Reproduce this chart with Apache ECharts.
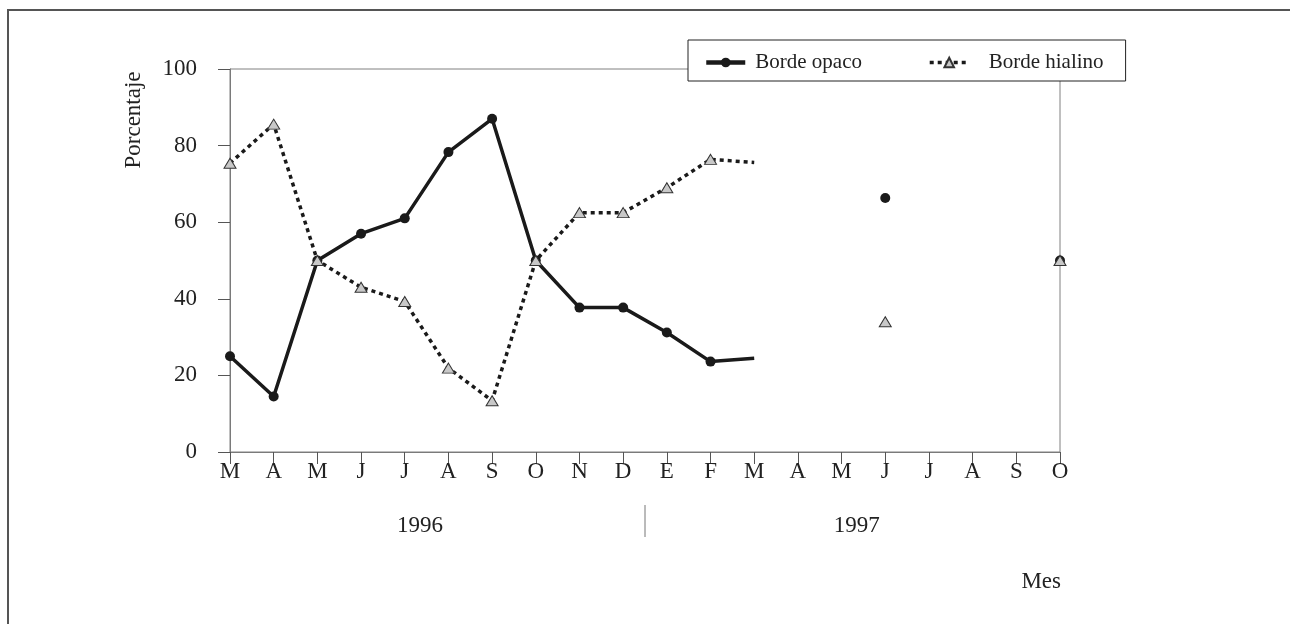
<!DOCTYPE html>
<html>
<head>
<meta charset="utf-8">
<script src="https://cdn.jsdelivr.net/npm/echarts@6/dist/echarts.min.js"></script>
<style>
  html, body { margin: 0; padding: 0; background: #fff; }
  #chart { width: 1290px; height: 624px; }
</style>
</head>
<body>
<div id="chart"></div>
<script>
// months from March 1996 to October 1997
const months = ['M', 'A', 'M', 'J', 'J', 'A', 'S', 'O', 'N', 'D', 'E', 'F', 'M', 'A', 'M', 'J', 'J', 'A', 'S', 'O']
const yearLabels = ['1996', '1997']
const yTicks = [0, 20, 40, 60, 80, 100]

// null = no sample that month
const opaco = [25, 14.5, 50, 57, 61, 78.3, 87, 50, 37.7, 37.7, 31.2, 23.6, 24.5, null, null, 66.3, null, null, null, 50]
const hialino = [75.4, 85.6, 50, 43, 39.3, 21.9, 13.4, 50, 62.5, 62.5, 69, 76.4, 75.6, null, null, 34, null, null, null, 50]
// last month drawn as line end only, no marker
const noMarkerIdx = 12

const FONT = '"Liberation Serif", "DejaVu Serif", serif'

const toItems = arr => arr.map((v, i) => i === noMarkerIdx ? { value: v, symbol: 'none' } : v)

const chart = echarts.init(document.getElementById('chart'))

chart.setOption({
  animation: false,
  backgroundColor: '#fff',
  grid: { left: 230, right: 230, top: 69, bottom: 172, show: true, borderColor: '#808080', borderWidth: 1 },
  legend: {
    left: 688, top: 40,
    backgroundColor: '#fff', borderColor: '#222', borderWidth: 1,
    padding: [12, 22, 8, 16],
    itemGap: 66, itemWidth: 39, itemHeight: 12,
    textStyle: { fontFamily: FONT, fontSize: 21, color: '#222', padding: [0, 0, 0, 5] },
    data: [
      { name: 'Borde opaco', lineStyle: { width: 4.5 } },
      { name: 'Borde hialino', lineStyle: { width: 3.5 }, textStyle: { padding: [0, 0, 0, 15] } }
    ]
  },
  xAxis: {
    type: 'category',
    boundaryGap: false,
    data: months,
    axisLine: { lineStyle: { color: '#7a7a7a', width: 1 } },
    axisTick: { show: true, inside: false, length: 12, alignWithLabel: true, lineStyle: { color: '#555' } },
    axisLabel: { margin: 8, fontFamily: FONT, fontSize: 23, color: '#222', interval: 0 },
    splitLine: { show: false }
  },
  yAxis: {
    type: 'value',
    min: yTicks[0], max: yTicks[yTicks.length - 1], interval: 20,
    axisLine: { show: true, lineStyle: { color: '#7a7a7a', width: 1 } },
    axisTick: { show: true, inside: false, length: 12, lineStyle: { color: '#555' } },
    axisLabel: { margin: 33, fontFamily: FONT, fontSize: 23, color: '#222' },
    splitLine: { show: false }
  },
  series: [
    {
      name: 'Borde opaco',
      type: 'line',
      data: toItems(opaco),
      showAllSymbol: true,
      symbol: 'circle',
      symbolSize: 10,
      itemStyle: { color: '#1a1a1a' },
      lineStyle: { color: '#1a1a1a', width: 3.5 },
      z: 2
    },
    {
      name: 'Borde hialino',
      type: 'line',
      data: toItems(hialino),
      showAllSymbol: true,
      symbol: 'triangle',
      symbolSize: [12, 10],
      itemStyle: { color: '#c8c8c8', borderColor: '#333', borderWidth: 1 },
      lineStyle: { color: '#1a1a1a', width: 3.5, type: [4, 4], cap: 'butt' },
      z: 3
    }
  ]
})

// year labels, separator and titles placed from the axis scale
const px = i => chart.convertToPixel({ xAxisIndex: 0 }, i)
const step = px(1) - px(0)
const sepX = (px(9) + px(10)) / 2
const yearX = [px(4) + 0.35 * step, px(14) + 0.35 * step]

chart.setOption({
  graphic: [
    { type: 'polyline', shape: { points: [[8, 624], [8, 10], [1290, 10]] }, style: { stroke: '#555', lineWidth: 2, fill: null } },
    { type: 'line', shape: { x1: sepX, y1: 505, x2: sepX, y2: 537 }, style: { stroke: '#777', lineWidth: 1 } },
    ...yearLabels.map((t, k) => ({
      type: 'text', x: yearX[k], y: 526,
      style: { text: t, fontFamily: FONT, fontSize: 23, fill: '#222', align: 'center', verticalAlign: 'middle' }
    })),
    {
      type: 'text', x: 134, y: 120, rotation: Math.PI / 2,
      style: { text: 'Porcentaje', fontFamily: FONT, fontSize: 23, fill: '#222', align: 'center', verticalAlign: 'middle' }
    },
    {
      type: 'text', x: 1061, y: 582,
      style: { text: 'Mes', fontFamily: FONT, fontSize: 23, fill: '#222', align: 'right', verticalAlign: 'middle' }
    }
  ]
})

window.addEventListener('resize', () => chart.resize())
</script>
</body>
</html>
